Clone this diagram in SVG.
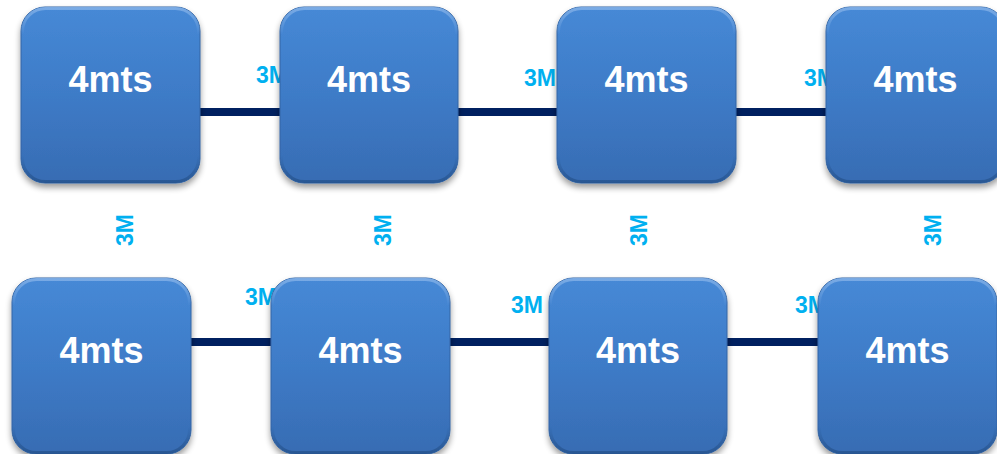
<svg xmlns="http://www.w3.org/2000/svg" width="997" height="454" viewBox="0 0 997 454">
<style>
.box{fill:url(#g);stroke:#3465A4;stroke-width:1;filter:url(#sh)}
.hl{fill:none;stroke:url(#hlg);stroke-width:3}
.t{font-family:"Liberation Sans",Arial,sans-serif;font-weight:bold;font-size:36px;fill:#FFFFFF;text-anchor:middle}
.lab{font-family:"Liberation Sans",Arial,sans-serif;font-weight:bold;font-size:23px;fill:#00B0F0}
.vlab{font-family:"Liberation Sans",Arial,sans-serif;font-weight:bold;font-size:23px;fill:#00B0F0;text-anchor:middle}
.ln{stroke:#002060;stroke-width:8;fill:none}
</style>
<defs>
<linearGradient id="g" x1="0" y1="0" x2="0" y2="1">
<stop offset="0" stop-color="#4689D6"/>
<stop offset="0.5" stop-color="#3E7BC7"/>
<stop offset="1" stop-color="#376CB3"/>
</linearGradient>
<linearGradient id="hlg" x1="0" y1="0" x2="0" y2="1">
<stop offset="0" stop-color="#7FAEE6" stop-opacity="0.9"/>
<stop offset="0.15" stop-color="#7FAEE6" stop-opacity="0"/>
<stop offset="0.85" stop-color="#1F4A80" stop-opacity="0"/>
<stop offset="1" stop-color="#1F4A80" stop-opacity="0.6"/>
</linearGradient>
<filter id="sh" x="-10%" y="-10%" width="120%" height="125%">
<feGaussianBlur in="SourceAlpha" stdDeviation="3"/>
<feOffset dy="4" result="b"/>
<feComponentTransfer><feFuncA type="linear" slope="0.4"/></feComponentTransfer>
<feMerge><feMergeNode/><feMergeNode in="SourceGraphic"/></feMerge>
</filter>
</defs>
<rect width="997" height="454" fill="#FFFFFF"/>
<g id="connectors">
<line class="ln" x1="200" y1="112" x2="280" y2="112"/>
<line class="ln" x1="458" y1="112" x2="557" y2="112"/>
<line class="ln" x1="736" y1="112" x2="826" y2="112"/>
<line class="ln" x1="190" y1="342" x2="271" y2="342"/>
<line class="ln" x1="450" y1="342" x2="549" y2="342"/>
<line class="ln" x1="727" y1="342" x2="818" y2="342"/>
<text class="lab" x="256" y="83">3M</text>
<text class="lab" x="524" y="86">3M</text>
<text class="lab" x="804" y="86">3M</text>
<text class="lab" x="245" y="305">3M</text>
<text class="lab" x="511" y="313">3M</text>
<text class="lab" x="795" y="313">3M</text>
<text class="vlab" transform="translate(133,230) rotate(-90)">3M</text>
<text class="vlab" transform="translate(391,230) rotate(-90)">3M</text>
<text class="vlab" transform="translate(647,230) rotate(-90)">3M</text>
<text class="vlab" transform="translate(941,230) rotate(-90)">3M</text>
</g>
<g id="n1"><rect class="box" x="21" y="7" width="179" height="176" rx="24"/><rect class="hl" x="22.5" y="8.5" width="176" height="173" rx="23"/><text class="t" x="110.5" y="92">4mts</text></g>
<g id="n2"><rect class="box" x="280" y="7" width="178" height="176" rx="24"/><rect class="hl" x="281.5" y="8.5" width="175" height="173" rx="23"/><text class="t" x="369" y="92">4mts</text></g>
<g id="n3"><rect class="box" x="557" y="7" width="179" height="176" rx="24"/><rect class="hl" x="558.5" y="8.5" width="176" height="173" rx="23"/><text class="t" x="646.5" y="92">4mts</text></g>
<g id="n4"><rect class="box" x="826" y="7" width="179" height="176" rx="24"/><rect class="hl" x="827.5" y="8.5" width="176" height="173" rx="23"/><text class="t" x="915.5" y="92">4mts</text></g>
<g id="n5"><rect class="box" x="12" y="278" width="179" height="176" rx="24"/><rect class="hl" x="13.5" y="279.5" width="176" height="173" rx="23"/><text class="t" x="101.5" y="363">4mts</text></g>
<g id="n6"><rect class="box" x="271" y="278" width="179" height="176" rx="24"/><rect class="hl" x="272.5" y="279.5" width="176" height="173" rx="23"/><text class="t" x="360.5" y="363">4mts</text></g>
<g id="n7"><rect class="box" x="549" y="278" width="178" height="176" rx="24"/><rect class="hl" x="550.5" y="279.5" width="175" height="173" rx="23"/><text class="t" x="638" y="363">4mts</text></g>
<g id="n8"><rect class="box" x="818" y="278" width="179" height="176" rx="24"/><rect class="hl" x="819.5" y="279.5" width="176" height="173" rx="23"/><text class="t" x="907.5" y="363">4mts</text></g>
</svg>
